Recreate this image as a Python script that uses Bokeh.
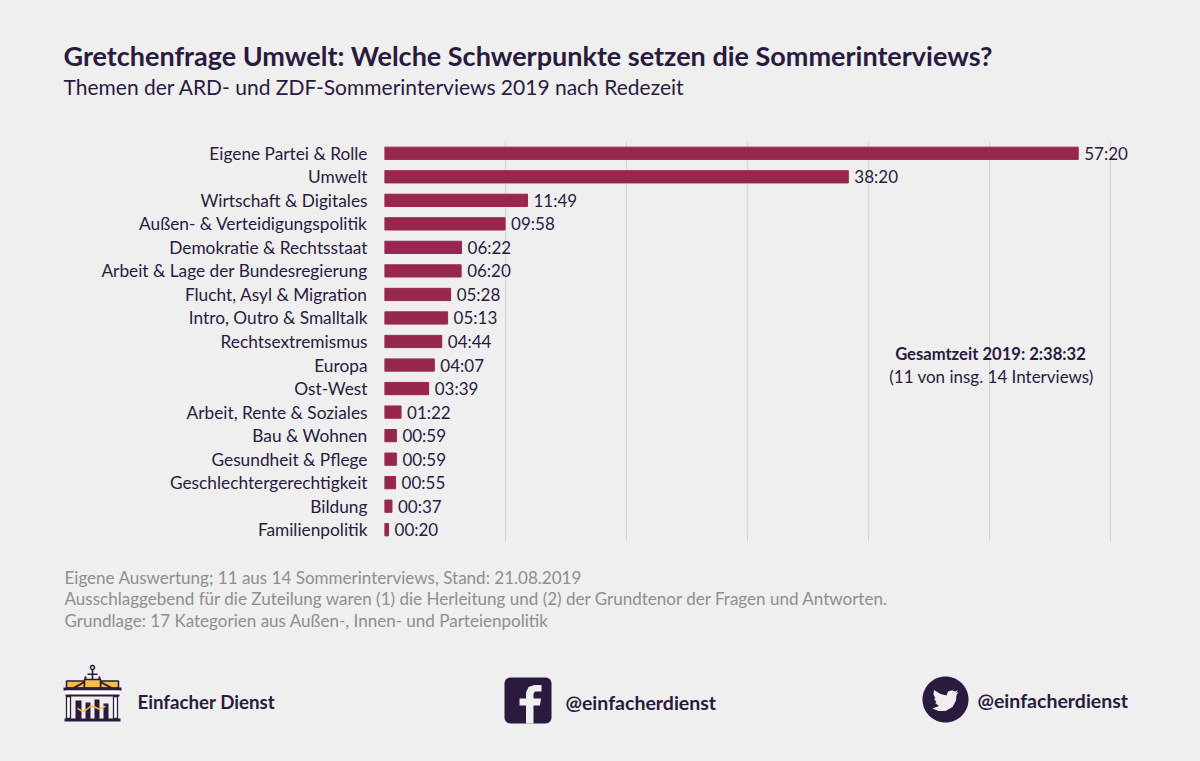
import numpy as np
from bokeh.plotting import figure
from bokeh.layouts import column, row
from bokeh.models import FixedTicker, ColumnDataSource
from bokeh.core.properties import value
from bokeh.embed import file_html
from bokeh.resources import INLINE

categories = ["Eigene Partei & Rolle", "Umwelt", "Wirtschaft & Digitales", "Außen- & Verteidigungspolitik",
              "Demokratie & Rechtsstaat", "Arbeit & Lage der Bundesregierung", "Flucht, Asyl & Migration",
              "Intro, Outro & Smalltalk", "Rechtsextremismus", "Europa", "Ost-West", "Arbeit, Rente & Soziales",
              "Bau & Wohnen", "Gesundheit & Pflege", "Geschlechtergerechtigkeit", "Bildung", "Familienpolitik"]
durations = ["57:20", "38:20", "11:49", "09:58", "06:22", "06:20", "05:28", "05:13", "04:44", "04:07", "03:39",
             "01:22", "00:59", "00:59", "00:55", "00:37", "00:20"]
seconds = [int(d[:2]) * 60 + int(d[3:]) for d in durations]
grid_seconds = [0, 600, 1200, 1800, 2400, 3000, 3600]

BG = "#efefef"; INK = "#2a1a3e"; BAR = "#97274f"; GREY = "#8e8e8e"; GOLD = "#f6bd4b"
FONT = "Lato"
W = 1200; H_TOP = 141; H_CHART = 400; H_BOTTOM = 220


def blank(height, y_start):
    f = figure(width=W, height=height, x_range=(0, W), y_range=(y_start + height, y_start),
               x_axis_location=None, y_axis_location=None, output_backend="svg", toolbar_location=None,
               min_border=0, background_fill_color=BG, border_fill_color=BG, outline_line_color=None)
    f.xgrid.visible = False
    f.ygrid.visible = False
    return f


top = blank(H_TOP, 0)
bottom = blank(H_BOTTOM, H_TOP + H_CHART)

p = figure(width=W, height=H_CHART, x_range=(0, (W - 384) / 0.20167), y_range=list(reversed(categories)),
           output_backend="svg", toolbar_location=None,
           min_border_left=384, min_border_right=0, min_border_top=0, min_border_bottom=0,
           background_fill_color=BG, border_fill_color=BG, outline_line_color=None)
p.xaxis.visible = False
p.xgrid.ticker = FixedTicker(ticks=grid_seconds)
p.xgrid.grid_line_color = "#d4d4d4"
p.xgrid.grid_line_width = 1
p.ygrid.visible = False
ya = p.yaxis[0]
ya.axis_line_color = None
ya.major_tick_line_color = None
ya.minor_tick_line_color = None
ya.major_tick_out = 0
ya.major_tick_in = 0
ya.major_label_standoff = 17
ya.major_label_text_font = FONT
ya.major_label_text_font_size = "17.3px"
ya.major_label_text_color = INK

src = ColumnDataSource(dict(cat=categories, sec=seconds, lab=durations))
p.hbar(y="cat", right="sec", left=0, height=0.52, color=BAR, source=src)
p.text(x="sec", y="cat", text="lab", source=src, x_offset=6, y_offset=0, text_baseline="middle",
       text_font=value(FONT), text_font_size="17px", text_color=INK)


def label(f, x, y, text, size, color=INK, bold=False, align="left"):
    f.text(x=[x], y=[y], text=[text], text_font=value(FONT), text_font_size=f"{size}px", text_color=color,
           text_font_style="bold" if bold else "normal", text_align=align, text_baseline="alphabetic")


def poly(pts, fill, line=None, lw=0):
    xs = [a for a, _ in pts]; ys = [b for _, b in pts]
    bottom.patch(xs, ys, fill_color=fill, line_color=line, line_width=lw, line_alpha=1 if line else 0)


def box(x0, y0, x1, y1, fill):
    poly([(x0, y0), (x1, y0), (x1, y1), (x0, y1)], fill)


def circle_pts(cx, cy, r, n=64):
    t = np.linspace(0, 2 * np.pi, n, endpoint=False)
    return list(zip(cx + r * np.cos(t), cy + r * np.sin(t)))


def rrect(x0, y0, x1, y1, r):
    pts = []
    for cx, cy, a in [(x1 - r, y0 + r, -90), (x1 - r, y1 - r, 0), (x0 + r, y1 - r, 90), (x0 + r, y0 + r, 180)]:
        for d in range(0, 91, 15):
            t = np.radians(a + d)
            pts.append((cx + r * np.cos(t), cy + r * np.sin(t)))
    return pts


label(top, 63, 55, "Gretchenfrage Umwelt: Welche Schwerpunkte setzen die Sommerinterviews?", 27, bold=True)
label(top, 63, 86, "Themen der ARD- und ZDF-Sommerinterviews 2019 nach Redezeit", 21)

p.text(x=[(990 - 384) / 0.20167], y=["Rechtsextremismus"], text=["Gesamtzeit 2019: 2:38:32"], y_offset=12,
       text_align="center", text_baseline="alphabetic", text_font=value(FONT), text_font_size="16.6px",
       text_font_style="bold", text_color=INK)
p.text(x=[(991 - 384) / 0.20167], y=["Rechtsextremismus"], text=["(11 von insg. 14 Interviews)"], y_offset=35,
       text_align="center", text_baseline="alphabetic", text_font=value(FONT), text_font_size="17px", text_color=INK)

label(bottom, 64, 577, "Eigene Auswertung; 11 aus 14 Sommerinterviews, Stand: 21.08.2019", 17.05, GREY)
label(bottom, 64, 598, "Ausschlaggebend für die Zuteilung waren (1) die Herleitung und (2) der Grundtenor der Fragen und Antworten.", 17.05, GREY)
label(bottom, 64, 620, "Grundlage: 17 Kategorien aus Außen-, Innen- und Parteienpolitik", 17.05, GREY)
label(bottom, 137, 701, "Einfacher Dienst", 18.7, bold=True)
label(bottom, 565, 702, "@einfacherdienst", 19.5, bold=True)
label(bottom, 977, 700, "@einfacherdienst", 19.5, bold=True)

# logo: gate
poly(circle_pts(92, 667, 2), BG, INK, 1.5)
box(91.2, 669, 92.8, 679, INK)
box(87, 673, 97, 674.5, INK)
box(84, 676, 86, 680, INK); box(98, 676, 100, 680, INK)
poly([(66, 680.5), (84, 680.5), (84, 687.5), (66, 687.5)], GOLD, INK, 1.5)
poly([(100, 680.5), (118, 680.5), (118, 687.5), (100, 687.5)], GOLD, INK, 1.5)
poly([(84, 679), (100, 679), (100, 687.5), (84, 687.5)], GOLD, INK, 1.5)
poly([(71, 687.5), (84, 680.5), (84, 682.5), (75, 687.5)], INK)
poly([(113, 687.5), (100, 680.5), (100, 682.5), (109, 687.5)], INK)
box(63, 687, 121, 690, INK)
box(65, 690, 119, 695, "#ffffff"); box(65, 694, 119, 696, INK)
for a in (66, 113):
    poly([(a, 696), (a + 4, 696), (a + 4, 718), (a, 718)], "#ffffff", INK, 1.3)
box(75, 700, 81, 719, INK); box(85, 702, 90, 719, INK); box(94, 699, 99, 719, INK); box(103, 703, 108, 719, INK)
box(64, 718, 120, 721, INK)
wave = [(77, 707), (81, 709.5), (85, 709), (90, 705), (94, 705.5), (98, 707.5), (105, 705)]
poly(wave + [(x, y + 1.8) for x, y in reversed(wave)], GOLD)

# facebook icon
poly(rrect(504, 677, 551, 723, 6), INK)
poly([(533, 723), (533, 705), (539.5, 705), (540.5, 698), (533, 698), (533, 693.5), (534.5, 691), (541, 691), (541, 684.5),
      (534, 684.5), (528, 686.5), (525.5, 692), (525.5, 698), (519, 698), (519, 705), (525.5, 705), (525.5, 723)], BG)

# twitter icon
poly(circle_pts(945, 699, 23), INK)
poly([(958, 691.5), (955.5, 692.5), (957.5, 689.5), (954.5, 691), (951.5, 689.7), (947.5, 691), (946, 695), (940, 693.5), (933.5, 689.5),
      (933, 694), (935, 698), (933.5, 698), (936, 702), (934.5, 702.5), (938.5, 705.5), (932, 708), (938, 710.5), (945, 710.5),
      (952, 706.5), (955.5, 700), (956, 694.5)], BG)

page = column(row(top), row(p), row(bottom), spacing=0, styles={"background-color": BG})
open("out.html", "w").write(file_html(page, INLINE))
